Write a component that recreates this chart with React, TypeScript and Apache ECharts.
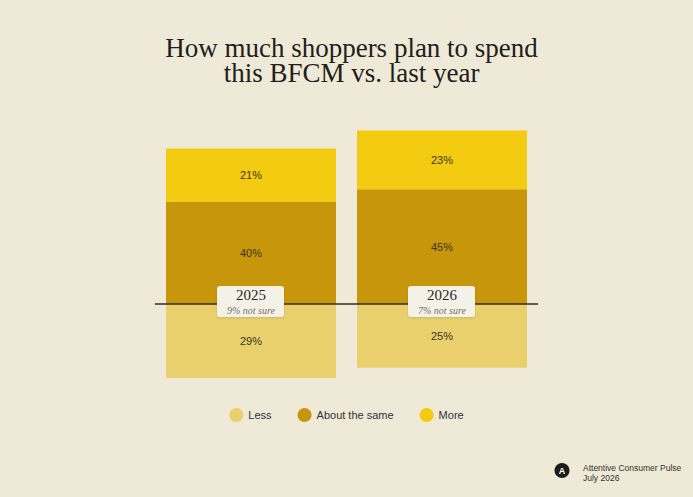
import React, { useEffect, useRef } from "react";
import * as echarts from "echarts";

const categories = ["2025", "2026"];
const lessValues = [29, 25];
const sameValues = [40, 45];
const moreValues = [21, 23];
const notSure = [9, 7];
const seriesNames = ["Less", "About the same", "More"];
const titleLines = ["How much shoppers plan to spend", "this BFCM vs. last year"];
const footerLines = ["Attentive Consumer Pulse", "July 2026"];

const BG = "#efe9d8";
const C_LESS = "#e9d06c";
const C_SAME = "#c8960a";
const C_MORE = "#f3cb10";
const SANS = '"Liberation Sans", Arial, sans-serif';
const SERIF = '"Liberation Serif", "Times New Roman", serif';

export default function App() {
  const ref = useRef<HTMLDivElement>(null);
  useEffect(() => {
    if (!ref.current) return;
    const chart = echarts.init(ref.current, undefined, { renderer: "svg" });
    const label = {
      show: true,
      position: "inside",
      color: "#3a3426",
      fontSize: 11,
      fontFamily: SANS,
      formatter: (p: any) => Math.abs(p.value) + "%",
    };
    chart.setOption({
      animation: false,
      backgroundColor: BG,
      title: {
        text: titleLines.join("\n"),
        left: 346.5,
        top: 30,
        textAlign: "center",
        textStyle: {
          fontFamily: SERIF,
          fontSize: 27,
          fontWeight: "normal",
          color: "#222019",
          lineHeight: 25,
        },
      },
      legend: {
        data: seriesNames,
        top: 403,
        left: "center",
        icon: "circle",
        itemWidth: 14,
        itemHeight: 14,
        itemGap: 26,
        textStyle: { fontSize: 11, color: "#333", fontFamily: SANS },
      },
      grid: { left: 155.5, right: 155.5, top: 100, height: 306 },
      xAxis: {
        type: "category",
        data: categories,
        z: 3,
        axisLine: { show: true, onZero: true, lineStyle: { color: "#2f2c26", width: 1.5 } },
        axisTick: { show: false },
        axisLabel: { show: false },
      },
      yAxis: {
        type: "value",
        min: -40,
        max: 80,
        show: false,
        splitLine: { show: false },
      },
      series: [
        {
          name: seriesNames[0],
          type: "bar",
          stack: "total",
          barWidth: 170,
          data: lessValues.map((v) => -v),
          itemStyle: { color: C_LESS },
          label,
        },
        {
          name: seriesNames[1],
          type: "bar",
          stack: "total",
          barWidth: 170,
          data: sameValues,
          itemStyle: { color: C_SAME },
          label,
        },
        {
          name: seriesNames[2],
          type: "bar",
          stack: "total",
          barWidth: 170,
          data: moreValues,
          itemStyle: { color: C_MORE },
          label,
        },
        {
          type: "custom",
          z: 5,
          silent: true,
          data: categories.map((c, i) => [i, notSure[i]]),
          renderItem: (params: any, api: any) => {
            const idx = params.dataIndex;
            const p = api.coord([api.value(0), 0]);
            return {
              type: "group",
              children: [
                {
                  type: "rect",
                  shape: { x: p[0] - 34, y: p[1] - 18, width: 67, height: 31, r: 3 },
                  style: {
                    fill: "#f4f1e9",
                    shadowBlur: 2,
                    shadowOffsetY: 1,
                    shadowColor: "rgba(0,0,0,0.12)",
                  },
                },
                {
                  type: "text",
                  style: {
                    text: categories[idx],
                    x: p[0],
                    y: p[1] - 9,
                    fill: "#2b2822",
                    font: `15px ${SERIF}`,
                    align: "center",
                    verticalAlign: "middle",
                    textAlign: "center",
                    textVerticalAlign: "middle",
                  },
                },
                {
                  type: "text",
                  style: {
                    text: api.value(1) + "% not sure",
                    x: p[0],
                    y: p[1] + 6,
                    fill: "#77736a",
                    font: `italic 10px ${SERIF}`,
                    align: "center",
                    verticalAlign: "middle",
                    textAlign: "center",
                    textVerticalAlign: "middle",
                  },
                },
              ],
            };
          },
        },
      ],
      graphic: [
        {
          type: "circle",
          shape: { cx: 562, cy: 470.5, r: 7.5 },
          style: { fill: "#1d1b18" },
        },
        {
          type: "text",
          style: {
            text: "A",
            x: 562,
            y: 471,
            fill: "#ffffff",
            font: `bold 9px ${SANS}`,
            align: "center",
            verticalAlign: "middle",
            textAlign: "center",
            textVerticalAlign: "middle",
          },
        },
        {
          type: "text",
          style: {
            text: footerLines.join("\n"),
            x: 583,
            y: 463,
            fill: "#34312b",
            font: `8.5px ${SANS}`,
            lineHeight: 10,
          },
        },
      ],
    });
    return () => chart.dispose();
  }, []);
  return (
    <div
      ref={ref}
      style={{ position: "fixed", left: 0, top: 0, width: 693, height: 497 }}
    />
  );
}
